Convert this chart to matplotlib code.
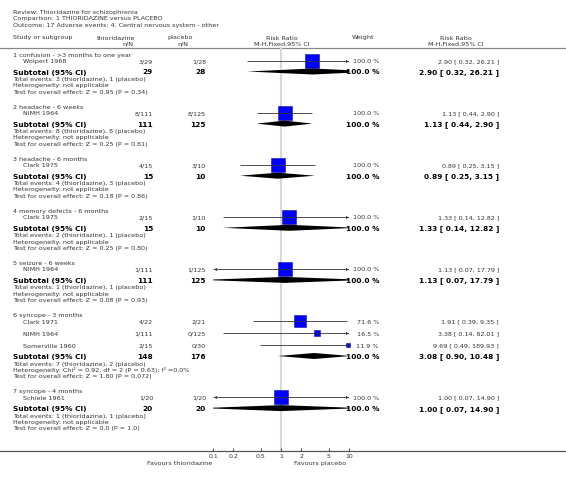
import numpy as np
import matplotlib
matplotlib.use('Agg')
from matplotlib import pyplot as plt
from matplotlib.patches import Polygon

# header text
review = 'Review: Thioridazine for schizophrenia'
comparison = 'Comparison: 1 THIORIDAZINE versus PLACEBO'
outcome = 'Outcome: 17 Adverse events: 4. Central nervous system - other'

# subgroups
group_names = ['1 confusion - >3 months to one year', '2 headache - 6 weeks',
               '3 headache - 6 months', '4 memory defects - 6 months',
               '5 seizure - 6 weeks', '6 syncope - 3 months', '7 syncope - 4 months']

# studies per group: name, thioridazine n/N, placebo n/N, weight, RR, lo, hi
study_names = [['Wolpert 1968'], ['NIMH 1964'], ['Clark 1975'], ['Clark 1975'],
               ['NIMH 1964'], ['Clark 1971', 'NIMH 1964', 'Somerville 1960'], ['Schiele 1961']]
study_trt = [['3/29'], ['8/111'], ['4/15'], ['2/15'], ['1/111'], ['4/22', '1/111', '2/15'], ['1/20']]
study_ctl = [['1/28'], ['8/125'], ['3/10'], ['1/10'], ['1/125'], ['2/21', '0/125', '0/30'], ['1/20']]
study_w = [[100.0], [100.0], [100.0], [100.0], [100.0], [71.6, 16.5, 11.9], [100.0]]
study_rr = [[2.90], [1.13], [0.89], [1.33], [1.13], [1.91, 3.38, 9.69], [1.00]]
study_lo = [[0.32], [0.44], [0.25], [0.14], [0.07], [0.39, 0.14, 0.49], [0.07]]
study_hi = [[26.21], [2.90], [3.15], [12.82], [17.79], [9.35, 82.01, 189.93], [14.90]]

# subtotals
sub_trt = [29, 111, 15, 15, 111, 148, 20]
sub_ctl = [28, 125, 10, 10, 125, 176, 20]
sub_rr = [2.90, 1.13, 0.89, 1.33, 1.13, 3.08, 1.00]
sub_lo = [0.32, 0.44, 0.25, 0.14, 0.07, 0.90, 0.07]
sub_hi = [26.21, 2.90, 3.15, 12.82, 17.79, 10.48, 14.90]
events_trt = [3, 8, 4, 2, 1, 7, 1]
events_ctl = [1, 8, 3, 1, 1, 2, 1]
heterogeneity = ['not applicable'] * 5 + ['Chi\u00b2 = 0.92, df = 2 (P = 0.63); I\u00b2 =0.0%', 'not applicable']
overall = ['Z = 0.95 (P = 0.34)', 'Z = 0.25 (P = 0.81)', 'Z = 0.18 (P = 0.86)',
           'Z = 0.25 (P = 0.80)', 'Z = 0.08 (P = 0.93)', 'Z = 1.80 (P = 0.072)',
           'Z = 0.0 (P = 1.0)']

ticks = [0.1, 0.2, 0.5, 1, 2, 5, 10]
tick_labels = ['0.1', '0.2', '0.5', '1', '2', '5', '10']

W, H = 566, 481
fig = plt.figure(figsize=(W / 100, H / 100), dpi=100)
ax = fig.add_axes([0, 0, 1, 1])
ax.set_xlim(0, W)
ax.set_ylim(H, 0)
ax.axis('off')

# forest axis, y in the same pixel units
x0, x1, ytop, ybot = 213, 349, 48, 452
fx = fig.add_axes([x0 / W, 1 - ybot / H, (x1 - x0) / W, (ybot - ytop) / H])
fx.set_xscale('log')
fx.set_xlim(0.1, 10)
fx.set_ylim(ybot, ytop)
fx.patch.set_alpha(0)
for s in fx.spines.values():
    s.set_visible(False)
fx.set_yticks([])
fx.set_xticks(ticks)
fx.set_xticklabels(tick_labels)
fx.minorticks_off()
fx.tick_params(axis='x', direction='in', length=2.5, width=0.6, color='#333333',
               labelsize=4.5, labelcolor='#333333', pad=1.5)
fx.axvline(1, color='#d8d8d8', lw=1.5, zorder=0)

small = dict(fontsize=4.6, color='#333333', va='center')
bold = dict(fontsize=5.3, color='black', va='center', fontweight='bold')

ax.text(13, 12.5, review, **small)
ax.text(13, 18.5, comparison, **small)
ax.text(13, 25, outcome, **small)

ax.text(13, 38, 'Study or subgroup', **small)
ax.text(135, 38, 'thioridazine', ha='right', **small)
ax.text(133, 44, 'n/N', ha='right', **small)
ax.text(193, 38, 'placebo', ha='right', **small)
ax.text(188, 44, 'n/N', ha='right', **small)
ax.text(282, 38, 'Risk Ratio', ha='center', **small)
ax.text(282, 44, 'M-H,Fixed,95% CI', ha='center', **small)
ax.text(363, 38, 'Weight', ha='center', **small)
ax.text(456, 38, 'Risk Ratio', ha='center', **small)
ax.text(456, 44, 'M-H,Fixed,95% CI', ha='center', **small)
ax.plot([0, W], [48.5, 48.5], color='#888888', lw=0.9)
ax.plot([0, W], [452, 452], color='#555555', lw=0.9)

ax.text(180, 464, 'Favours thioridazine', ha='center', **small)
ax.text(320, 464, 'Favours placebo', ha='center', **small)


def ci_line(y, rr, lo, hi):
    a = max(lo, 0.1)
    b = min(hi, 10)
    fx.plot([a, b], [y, y], color='#333333', lw=0.6, zorder=3, solid_capstyle='butt')
    if hi > 10:
        fx.plot([9.4], [y], marker='>', ms=2.2, color='#333333', mew=0, zorder=3, clip_on=False)
    if lo < 0.1:
        fx.plot([0.106], [y], marker='<', ms=2.2, color='#333333', mew=0, zorder=3, clip_on=False)


y = 55
for g in range(len(group_names)):
    ax.text(13, y, group_names[g], **small)
    y += 6.5
    for k in range(len(study_names[g])):
        ax.text(23, y, study_names[g][k], **small)
        ax.text(153, y, study_trt[g][k], ha='right', **small)
        ax.text(206, y, study_ctl[g][k], ha='right', **small)
        ax.text(379, y, '%.1f %%' % study_w[g][k], ha='right', **small)
        ax.text(499, y, '%.2f [ %.2f, %.2f ]' % (study_rr[g][k], study_lo[g][k], study_hi[g][k]),
                ha='right', **small)
        side = 9.4 * np.sqrt(study_w[g][k] / 100.0)
        fx.scatter([study_rr[g][k]], [y], marker='s', s=side ** 2, color='#0000ff',
                   edgecolors='#1010a0', linewidths=0.4, zorder=2, clip_on=False)
        ci_line(y, study_rr[g][k], study_lo[g][k], study_hi[g][k])
        y += 12
    y -= 1
    ax.text(13, y, 'Subtotal (95% CI)', **bold)
    ax.text(153, y, str(sub_trt[g]), ha='right', **bold)
    ax.text(206, y, str(sub_ctl[g]), ha='right', **bold)
    ax.text(379, y, '100.0 %', ha='right', **bold)
    ax.text(499, y, '%.2f [ %.2f, %.2f ]' % (sub_rr[g], sub_lo[g], sub_hi[g]), ha='right', **bold)
    d = Polygon([(sub_lo[g], y), (sub_rr[g], y - 3), (sub_hi[g], y), (sub_rr[g], y + 3)],
                closed=True, color='black', lw=0, zorder=2)
    fx.add_patch(d)
    y += 7
    ax.text(13, y, 'Total events: %d (thioridazine), %d (placebo)' % (events_trt[g], events_ctl[g]), **small)
    y += 6.3
    ax.text(13, y, 'Heterogeneity: ' + heterogeneity[g], **small)
    y += 6.3
    ax.text(13, y, 'Test for overall effect: ' + overall[g], **small)
    y += 15

fig.savefig('out.png', dpi=100)
